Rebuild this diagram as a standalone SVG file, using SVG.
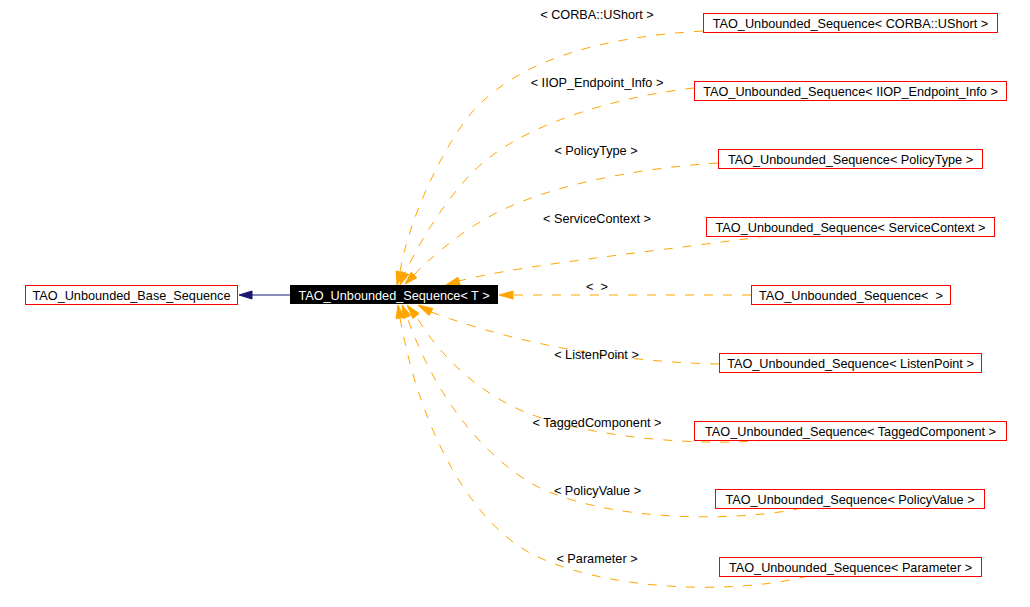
<svg xmlns="http://www.w3.org/2000/svg" width="1030" height="607" viewBox="0 0 1030 607">
<style>
text{font-family:"Liberation Sans",Arial,Helvetica,sans-serif;font-size:12.7px;fill:#000}
.n rect{fill:#fff;stroke:#ff0000;stroke-width:1}
.nt{text-anchor:middle}
.lbl{text-anchor:middle}
.e{fill:none;stroke:#ffa500;stroke-width:1;stroke-dasharray:9,10}
.ah{fill:#ffa500;stroke:#ffa500;stroke-width:1}
.be{fill:none;stroke:#191970;stroke-width:1}
.bh{fill:#191970;stroke:#191970;stroke-width:1}
</style>
<rect width="1030" height="607" fill="#fff"/>
<g id="connectors">
<path class="be" d="M290,295 L252,295"/>
<polygon class="bh" points="239,295 252,291 252,299"/>
<path class="e" d="M703,31 C600,37 520,60 474,110 C445,142 408,220 400,272"/>
<polygon class="ah" points="397,285 396.1,271.1 403.9,272.9"/>
<path class="e" d="M694,88 C620,96 535,122 490,157 C455,183 420,240 405,273"/>
<polygon class="ah" points="400,285 401.3,271.5 408.7,274.5"/>
<path class="e" d="M718,163 C640,168 540,185 480,222 C455,237 430,258 414,275"/>
<polygon class="ah" points="405,284 411.2,272.2 416.8,277.8"/>
<path class="e" d="M767,236 C650,252 520,265 459,281"/>
<polygon class="ah" points="446,285 457.8,277.2 460.2,284.8"/>
<path class="e" d="M751,295 L513,295"/>
<polygon class="ah" points="499,295 513,291 513,299"/>
<path class="e" d="M719,364 C620,362 520,345 431,312"/>
<polygon class="ah" points="418,305 432.9,308.5 429.1,315.5"/>
<path class="e" d="M767,440 C710,446 600,440 530,414 C490,399 445,365 416,316"/>
<polygon class="ah" points="407,305 419.1,313.5 412.9,318.5"/>
<path class="e" d="M802,508 C750,520 620,525 540,488 C495,465 440,410 407,317"/>
<polygon class="ah" points="402,305 410.7,315.5 403.3,318.5"/>
<path class="e" d="M808,576 C730,596 600,590 530,553 C470,520 420,430 400,318"/>
<polygon class="ah" points="398,305 404,317.4 396,318.6"/>
<text class="lbl" x="597" y="19">&lt; CORBA::UShort &gt;</text>
<text class="lbl" x="597" y="87">&lt; IIOP_Endpoint_Info &gt;</text>
<text class="lbl" x="596" y="155">&lt; PolicyType &gt;</text>
<text class="lbl" x="597" y="223">&lt; ServiceContext &gt;</text>
<text class="lbl" x="597" y="291" xml:space="preserve">&lt;  &gt;</text>
<text class="lbl" x="596.5" y="359">&lt; ListenPoint &gt;</text>
<text class="lbl" x="597" y="427">&lt; TaggedComponent &gt;</text>
<text class="lbl" x="597.5" y="495">&lt; PolicyValue &gt;</text>
<text class="lbl" x="597" y="563">&lt; Parameter &gt;</text>
</g>
<g id="node-base" class="n">
<rect x="25.5" y="285.5" width="212" height="19"/>
<text class="nt" x="131.5" y="300">TAO_Unbounded_Base_Sequence</text>
</g>
<g id="node-main">
<rect x="290" y="285" width="208" height="19" fill="#000"/>
<text class="nt" x="394" y="300" style="fill:#fff">TAO_Unbounded_Sequence&lt; T &gt;</text>
</g>
<g id="node-ushort" class="n">
<rect x="703.5" y="13.5" width="294" height="19"/>
<text class="nt" x="850.5" y="28">TAO_Unbounded_Sequence&lt; CORBA::UShort &gt;</text>
</g>
<g id="node-iiop" class="n">
<rect x="694.5" y="81.5" width="312" height="19"/>
<text class="nt" x="850.5" y="96">TAO_Unbounded_Sequence&lt; IIOP_Endpoint_Info &gt;</text>
</g>
<g id="node-policytype" class="n">
<rect x="718.5" y="149.5" width="264" height="19"/>
<text class="nt" x="850.5" y="164">TAO_Unbounded_Sequence&lt; PolicyType &gt;</text>
</g>
<g id="node-servicecontext" class="n">
<rect x="706.5" y="217.5" width="288" height="19"/>
<text class="nt" x="850.5" y="232">TAO_Unbounded_Sequence&lt; ServiceContext &gt;</text>
</g>
<g id="node-empty" class="n">
<rect x="751.5" y="285.5" width="199" height="19"/>
<text class="nt" x="851" y="300" xml:space="preserve">TAO_Unbounded_Sequence&lt;  &gt;</text>
</g>
<g id="node-listenpoint" class="n">
<rect x="719.5" y="353.5" width="262" height="19"/>
<text class="nt" x="850.5" y="368">TAO_Unbounded_Sequence&lt; ListenPoint &gt;</text>
</g>
<g id="node-taggedcomponent" class="n">
<rect x="694.5" y="421.5" width="312" height="19"/>
<text class="nt" x="850.5" y="436">TAO_Unbounded_Sequence&lt; TaggedComponent &gt;</text>
</g>
<g id="node-policyvalue" class="n">
<rect x="715.5" y="489.5" width="269" height="19"/>
<text class="nt" x="850" y="504">TAO_Unbounded_Sequence&lt; PolicyValue &gt;</text>
</g>
<g id="node-parameter" class="n">
<rect x="719.5" y="557.5" width="262" height="19"/>
<text class="nt" x="850.5" y="572">TAO_Unbounded_Sequence&lt; Parameter &gt;</text>
</g>
</svg>
